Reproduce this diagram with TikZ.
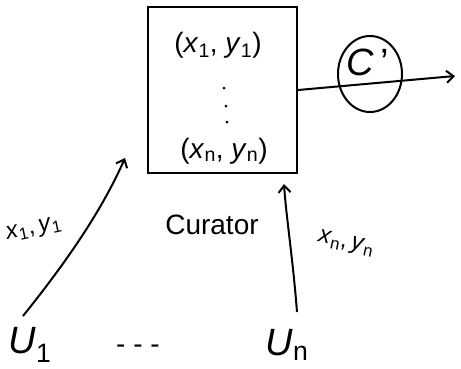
\documentclass[tikz,border=0pt]{standalone}
\usepackage{fontspec}
\setmainfont{Liberation Sans}
\usetikzlibrary{arrows.meta,shapes.geometric}
\newcommand\vsub[2]{\textit{#1}\textsubscript{#2}}
\begin{document}
\begin{tikzpicture}[x=1pt,y=-1pt,
  ink/.style={line width=2pt,black},
  arr/.style={ink,-{Straight Barb[length=7pt,width=12pt]}},
  lbl/.style={inner sep=1pt,font=\fontsize{28}{30}\selectfont},
  midlbl/.style={inner sep=1pt,font=\fontsize{24}{26}\selectfont},
  biglbl/.style={inner sep=1pt,font=\fontsize{38}{40}\selectfont},
  dotmark/.style={circle,fill=black,inner sep=0pt,minimum size=3pt}]
\useasboundingbox (0,0) rectangle (461,368);
\node[ink,draw,minimum width=149pt,minimum height=166pt,inner sep=0pt] (cur) at (222.5,90) {};
\node[lbl] (p1) at (218,45) {(\vsub{x}{1}, \vsub{y}{1})};
\node[dotmark] (d1) at (224,88) {};
\node[dotmark] (d2) at (226,106) {};
\node[dotmark] (d3) at (227,122) {};
\node[lbl] (pn) at (224,151) {(\vsub{x}{n}, \vsub{y}{n})};
\node[ink,draw,ellipse,minimum width=64pt,minimum height=76pt,inner sep=0pt] (cp) at (370,74) {};
\node[biglbl] (cl) at (368,62) {\textit{C}\,'};
\coordinate (out) at (455,76);
\draw[arr] (cur.east) -- (out);
\node[lbl] (cn) at (212,225) {Curator};
\node[biglbl] (u1) at (30,345) {\vsub{U}{1}};
\node[biglbl] (un) at (287,345) {\vsub{U}{n}};
\node[lbl] (dots) at (138,349) {- - -};
\coordinate (in1) at (125,158);
\coordinate (s1) at (23,316);
\draw[arr] (s1) .. controls (60,270) and (100,215) .. (in1);
\node[midlbl,rotate=12] (l1) at (34,230) {\vsub{x}{1},\,\vsub{y}{1}};
\coordinate (inn) at (284,184);
\coordinate (sn) at (297,312);
\draw[arr] (sn) .. controls (293,260) and (286,215) .. (inn);
\node[midlbl,rotate=-12] (ln) at (346,244) {\vsub{x}{n},\,\vsub{y}{n}};
\end{tikzpicture}
\end{document}
